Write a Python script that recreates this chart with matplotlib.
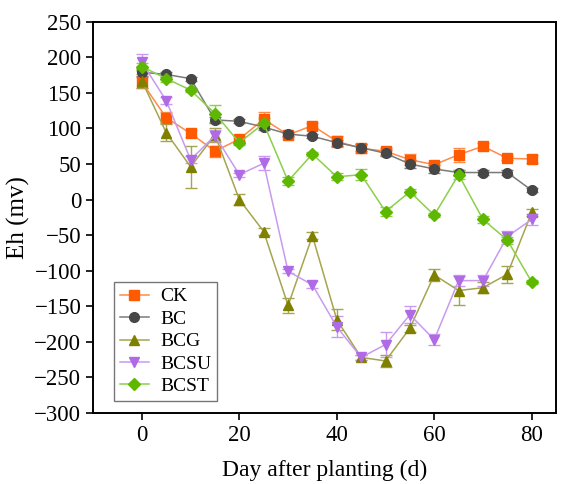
import matplotlib.pyplot as plt
import numpy as np

plt.rcParams['font.family'] = ['Liberation Serif', 'DejaVu Serif']
plt.rcParams['mathtext.fontset'] = 'stix'

days = [0, 5, 10, 15, 20, 25, 30, 35, 40, 45, 50, 55, 60, 65, 70, 75, 80]

ck = [165, 115, 93, 68, 85, 113, 91, 104, 82, 72, 68, 56, 49, 63, 75, 58, 57]
ck_err = [8, 8, 5, 8, 4, 10, 3, 3, 8, 6, 5, 8, 4, 10, 5, 3, 5]

bc = [179, 176, 170, 112, 110, 102, 92, 89, 80, 73, 65, 50, 43, 38, 38, 38, 13]
bc_err = [5, 3, 3, 4, 3, 4, 3, 3, 4, 5, 4, 6, 5, 3, 3, 3, 3]

bcg = [167, 94, 46, 91, 0, -45, -149, -51, -169, -222, -227, -181, -106, -128, -124, -105, -18]
bcg_err = [10, 12, 30, 10, 8, 5, 10, 5, 15, 3, 8, 5, 8, 20, 8, 12, 5]

bcsu = [193, 139, 56, 90, 35, 51, -101, -120, -179, -222, -204, -162, -197, -114, -114, -52, -28]
bcsu_err = [12, 5, 5, 8, 3, 10, 3, 5, 15, 3, 18, 12, 8, 8, 8, 8, 8]

bcst = [187, 170, 154, 121, 80, 107, 26, 64, 32, 35, -17, 11, -22, 35, -28, -57, -116]
bcst_err = [5, 5, 3, 12, 3, 8, 6, 3, 5, 8, 6, 4, 3, 6, 5, 5, 3]

series = [
    ("CK", ck, ck_err, "s", "#FF5A00", "#FF8A4A"),
    ("BC", bc, bc_err, "o", "#474747", "#7A7A7A"),
    ("BCG", bcg, bcg_err, "^", "#808000", "#A5A550"),
    ("BCSU", bcsu, bcsu_err, "v", "#B06AE6", "#C89AF0"),
    ("BCST", bcst, bcst_err, "D", "#5EB800", "#8CCF4A"),
]

fig = plt.figure(figsize=(5.68, 4.84), dpi=100)
ax = fig.add_axes([0.164, 0.147, 0.815, 0.808])

for name, vals, errs, mk, mcol, lcol in series:
    ax.errorbar(days, vals, yerr=errs, fmt="none", ecolor=lcol,
                elinewidth=1.0, capsize=4, capthick=1.0, zorder=2)
    ax.plot(days, vals, color=lcol, linewidth=1.1, marker=mk,
            markersize=7 if mk != "D" else 6, markerfacecolor=mcol,
            markeredgecolor=mcol, label=name, zorder=3)

ax.set_xlim(-10, 85)
ax.set_ylim(-300, 250)
ax.set_xticks([0, 20, 40, 60, 80])
ax.set_yticks(np.arange(-300, 251, 50))
ax.tick_params(direction="out", length=5, width=1.2, labelsize=16.5)
for s in ax.spines.values():
    s.set_linewidth(1.4)

ax.set_xlabel("Day after planting (d)", fontsize=17, labelpad=10)
ax.set_ylabel("Eh (mv)", fontsize=18, labelpad=3)

leg = ax.legend(loc="lower left", bbox_to_anchor=(0.045, 0.03), fontsize=14,
                frameon=True, fancybox=False, edgecolor="#555555",
                handlelength=1.5, labelspacing=0.25, borderpad=0.3,
                handletextpad=0.6, borderaxespad=0)
leg.get_frame().set_linewidth(1.0)

plt.savefig("out.png", dpi=100)
plt.close()
